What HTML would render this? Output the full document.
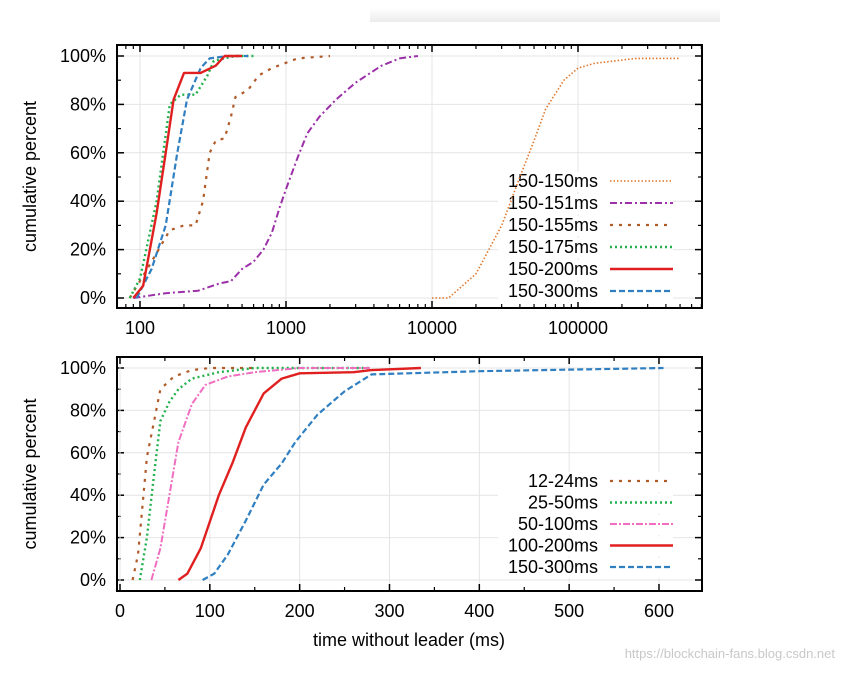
<!DOCTYPE html>
<html><head><meta charset="utf-8"><style>
body{margin:0;background:#fff;width:845px;height:672px;overflow:hidden;font-family:"Liberation Sans",sans-serif}
svg text{font-family:"Liberation Sans",sans-serif}
</style></head><body>
<svg id="svg" width="845" height="672">
<defs><linearGradient id="sh" x1="0" x2="0" y1="0" y2="1"><stop offset="0" stop-color="#fff"/><stop offset="1" stop-color="#ececec"/></linearGradient></defs>
<rect x="370" y="8" width="350" height="14" fill="url(#sh)"/>
<g id="g1"></g>
<g id="g2"></g>
<text x="835" y="658" text-anchor="end" font-size="13" fill="#c8c8c8">https://blockchain-fans.blog.csdn.net</text>
</svg>
<script>
const topNames=["150-150ms","150-151ms","150-155ms","150-175ms","150-200ms","150-300ms"];
const topX150=[10000,13000,20000,30000,40000,50000,60000,80000,100000,130000,250000,500000];
const topY150=[0,0,10,30,50,65,78,90,95,97,99,99];
const topX151=[90,150,250,350,420,500,600,700,800,900,1000,1200,1400,1700,2200,3000,4500,6000,8000];
const topY151=[0,2,3,6,7,12,15,20,27,37,45,58,68,75,82,89,96,99,100];
const topX155=[85,120,160,200,240,270,300,330,380,420,450,550,650,800,1200,2000];
const topY155=[0,15,28,30,30,40,60,65,66,75,83,86,92,95,99,100];
const topX175=[85,100,130,160,190,240,290,320,450,600];
const topY175=[0,8,40,80,84,84,92,98,100,100];
const topX200=[90,105,130,150,170,200,260,330,380,500];
const topY200=[0,5,35,60,82,93,93,96,100,100];
const topX300=[95,120,150,180,210,260,300,400,550];
const topY300=[0,12,30,60,82,95,99,100,100];
const topTicks=[100,1000,10000,100000];
const yTicks=[0,20,40,60,80,100];

const botNames=["12-24ms","25-50ms","50-100ms","100-200ms","150-300ms"];
const botX1=[14,20,25,30,38,45,60,80,100,150];
const botY1=[0,12,35,58,75,90,96,99,100,100];
const botX2=[22,30,38,45,55,65,80,110,150,280];
const botY2=[0,20,50,75,84,90,95,98,100,100];
const botX3=[35,45,55,65,80,95,120,150,200,280];
const botY3=[0,15,40,65,83,92,96,98,100,100];
const botX4=[65,75,90,110,125,140,160,180,200,260,280,335];
const botY4=[0,3,15,40,55,72,88,95,97.5,98,99,100];
const botX5=[92,105,120,140,160,180,195,220,250,280,400,605];
const botY5=[0,3,12,28,45,55,65,78,89,97,98.5,100];
const botTicks=[0,100,200,300,400,500,600];

const NS="http://www.w3.org/2000/svg";
function mk(p,t,a){const e=document.createElementNS(NS,t);for(const k in a)e.setAttribute(k,a[k]);p.appendChild(e);return e;}
const styles={
 orange:{stroke:"#e0772c",dash:"1.5 2",w:1.6},
 purple:{stroke:"#9b30a8",dash:"7 3 2 3",w:2},
 brown:{stroke:"#b05a28",dash:"3 6",w:2.2},
 green:{stroke:"#22b14c",dash:"2 3",w:2.4},
 red:{stroke:"#e02020",dash:"",w:2.4},
 blue:{stroke:"#2f7fc1",dash:"6 3",w:2.2},
 pink:{stroke:"#f06ec0",dash:"7 2 2 2",w:2}
};
function frame(g,L,R,T,B,y0,y100,xs,xfn,xlabels,minor){
 mk(g,"rect",{x:L,y:T,width:R-L,height:B-T,fill:"#fff"});
 yTicks.forEach(v=>{const y=y0+(y100-y0)*v/100;
  const gl=mk(g,"line",{x1:L,x2:R,y1:y,y2:y,stroke:"#e4e4e4","stroke-width":1});
  
  mk(g,"line",{x1:L,x2:L+7,y1:y,y2:y,stroke:"#000","stroke-width":1.5});
  mk(g,"line",{x1:R-7,x2:R,y1:y,y2:y,stroke:"#000","stroke-width":1.5});
  const t=mk(g,"text",{x:L-11,y:y+6,"text-anchor":"end","font-size":18});t.textContent=v+"%";
  
  if(v<100){const ym=y0+(y100-y0)*(v+10)/100;
   mk(g,"line",{x1:L,x2:L+4,y1:ym,y2:ym,stroke:"#000","stroke-width":1.2});
   mk(g,"line",{x1:R-4,x2:R,y1:ym,y2:ym,stroke:"#000","stroke-width":1.2});}
 });
 xs.forEach((v,i)=>{const x=xfn(v);
  const gl=mk(g,"line",{x1:x,x2:x,y1:T,y2:B,stroke:"#e4e4e4","stroke-width":1});
  
  mk(g,"line",{x1:x,x2:x,y1:B-7,y2:B,stroke:"#000","stroke-width":1.5});
  mk(g,"line",{x1:x,x2:x,y1:T,y2:T+7,stroke:"#000","stroke-width":1.5});
  const t=mk(g,"text",{x:x,y:B+26,"text-anchor":"middle","font-size":18});t.textContent=xlabels[i];
  
 });
 minor.forEach(v=>{const x=xfn(v);if(x<=L||x>=R)return;
  mk(g,"line",{x1:x,x2:x,y1:B-4,y2:B,stroke:"#000","stroke-width":1.2});
  mk(g,"line",{x1:x,x2:x,y1:T,y2:T+4,stroke:"#000","stroke-width":1.2});});
 const yt=mk(g,"text",{transform:`translate(36,${(T+B)/2}) rotate(-90)`,"text-anchor":"middle","font-size":18});
 yt.textContent="cumulative percent";
 
}
function series(g,xs,ys,xfn,yfn,st,name){
 const d=xs.map((x,i)=>(i?"L":"M")+xfn(x).toFixed(1)+","+yfn(ys[i]).toFixed(1)).join("");
 const p=mk(g,"path",{d:d,fill:"none",stroke:st.stroke,"stroke-width":st.w,"stroke-dasharray":st.dash,"stroke-linejoin":"round"});
 
}
function legend(g,names,sts,y0,dy,textR){
 names.forEach((n,i)=>{const y=y0+i*dy;
  mk(g,"rect",{x:textR-100,y:y-15,width:175,height:20,fill:"#fff"});
  const t=mk(g,"text",{x:textR,y:y,"text-anchor":"end","font-size":18});t.textContent=n;
  
  const st=sts[i];
  const l=mk(g,"line",{x1:textR+12,x2:textR+75,y1:y-6,y2:y-6,stroke:st.stroke,"stroke-width":st.w,"stroke-dasharray":st.dash});
  
 });
}
// top
const g1=document.getElementById("g1");
const L=117,R=702;
const lx=v=>140+146*(Math.log10(v)-2);
const ty=v=>298+(56-298)*v/100;
const minors=[];for(let d=10;d<=1e6;d*=10)for(let k=2;k<=9;k++)minors.push(d*k);
frame(g1,L,R,45,308,298,56,topTicks,lx,["100","1000","10000","100000"],minors);
const tst=[styles.orange,styles.purple,styles.brown,styles.green,styles.red,styles.blue];
legend(g1,topNames,tst,187,22,598);
series(g1,topX150,topY150,lx,ty,styles.orange,"line-150-150ms");
series(g1,topX151,topY151,lx,ty,styles.purple,"line-150-151ms");
series(g1,topX155,topY155,lx,ty,styles.brown,"line-150-155ms");
series(g1,topX175,topY175,lx,ty,styles.green,"line-150-175ms");
series(g1,topX300,topY300,lx,ty,styles.blue,"line-150-300ms");
series(g1,topX200,topY200,lx,ty,styles.red,"line-150-200ms");
mk(g1,"rect",{x:L,y:45,width:R-L,height:263,fill:"none",stroke:"#000","stroke-width":2});
// bottom
const g2=document.getElementById("g2");
const bx=v=>120+0.8983*v;
const by=v=>580+(368-580)*v/100;
const bminor=[];for(let v=50;v<=650;v+=100)bminor.push(v);
frame(g2,L,R,357,591,580,368,botTicks,bx,botTicks.map(String),bminor);
const bst=[styles.brown,styles.green,styles.pink,styles.red,styles.blue];
legend(g2,botNames,bst,487,21.5,598);
series(g2,botX1,botY1,bx,by,styles.brown,"line-12-24ms");
series(g2,botX2,botY2,bx,by,styles.green,"line-25-50ms");
series(g2,botX3,botY3,bx,by,styles.pink,"line-50-100ms");
series(g2,botX5,botY5,bx,by,styles.blue,"line-150-300ms");
series(g2,botX4,botY4,bx,by,styles.red,"line-100-200ms");
mk(g2,"rect",{x:L,y:357,width:R-L,height:234,fill:"none",stroke:"#000","stroke-width":2});
const xt=mk(g2,"text",{x:409,y:646,"text-anchor":"middle","font-size":18});xt.textContent="time without leader (ms)";


</script>
</body></html>
